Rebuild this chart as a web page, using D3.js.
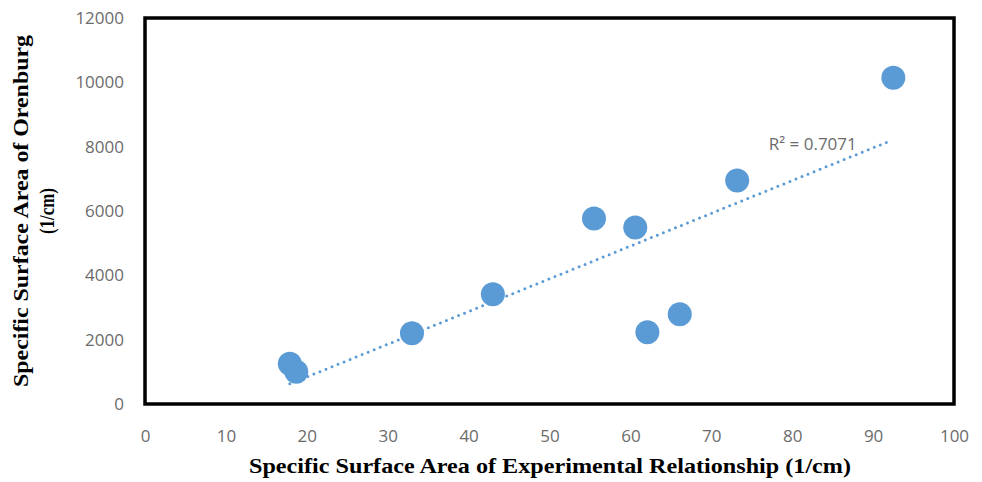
<!DOCTYPE html>
<html>
<head>
<meta charset="utf-8">
<script src="https://cdn.jsdelivr.net/npm/d3@7"></script>
<style>
  body { margin: 0; background: #fff; }
  .tick text { font-family: "Open Sans", "Noto Sans", sans-serif; fill: #6b6b6b; }
  .title { font-family: "Liberation Serif", serif; font-weight: bold; }
</style>
</head>
<body>
<div id="chart-area"></div>
<script>
// values
var xValues = [17.9, 18.7, 33.0, 43.0, 55.5, 60.6, 62.1, 66.1, 73.2, 92.5];
var yValues = [1250, 1000, 2200, 3410, 5770, 5490, 2230, 2790, 6950, 10140];
var xTicks = [0, 10, 20, 30, 40, 50, 60, 70, 80, 90, 100];
var yTicks = [0, 2000, 4000, 6000, 8000, 10000, 12000];
var r2Label = "R\u00b2 = 0.7071";

var width = 982, height = 482;
var margin = { top: 18, right: 28, bottom: 78, left: 145 };
var innerW = width - margin.left - margin.right;
var innerH = height - margin.top - margin.bottom;

var svg = d3.select("#chart-area")
    .append("svg")
    .attr("width", width)
    .attr("height", height);

var g = svg.append("g")
    .attr("transform", "translate(" + margin.left + "," + margin.top + ")");

var x = d3.scaleLinear().domain([0, 100]).range([0, innerW]);
var y = d3.scaleLinear().domain([0, 12000]).range([innerH, 0]);

// axes (labels only, frame drawn separately)
var xAxis = g.append("g")
    .attr("transform", "translate(0," + innerH + ")")
    .call(d3.axisBottom(x).tickValues(xTicks).tickSize(0).tickPadding(26).tickFormat(d3.format("d")));
var yAxis = g.append("g")
    .call(d3.axisLeft(y).tickValues(yTicks).tickSize(0).tickPadding(21).tickFormat(d3.format("d")));
[xAxis, yAxis].forEach(a => {
    a.select(".domain").remove();
    a.selectAll("text").style("font-size", "17px");
});

// plot frame
g.append("rect")
    .attr("x", 0).attr("y", 0)
    .attr("width", innerW).attr("height", innerH)
    .attr("fill", "none")
    .attr("stroke", "#000")
    .attr("stroke-width", 3.5);

// linear trendline
var data = xValues.map((v, i) => ({ x: v, y: yValues[i] }));
var mx = d3.mean(data, d => d.x), my = d3.mean(data, d => d.y);
var slope = d3.sum(data, d => (d.x - mx) * (d.y - my)) / d3.sum(data, d => (d.x - mx) * (d.x - mx));
var icpt = my - slope * mx;
var xr = d3.extent(xValues);

g.append("line")
    .attr("x1", x(xr[0])).attr("y1", y(icpt + slope * xr[0]))
    .attr("x2", x(xr[1] - 0.8)).attr("y2", y(icpt + slope * (xr[1] - 0.8)))
    .attr("stroke", "#5b9bd5")
    .attr("stroke-width", 3)
    .attr("stroke-linecap", "round")
    .attr("stroke-dasharray", "0,6.5");

g.append("text")
    .attr("x", x(77.1))
    .attr("y", y(7900))
    .attr("fill", "#6b6b6b")
    .style("font-family", "'Open Sans', sans-serif")
    .style("font-size", "17px")
    .text(r2Label);

g.selectAll("circle")
    .data(data)
    .enter().append("circle")
    .attr("cx", d => x(d.x))
    .attr("cy", d => y(d.y))
    .attr("r", 12)
    .attr("fill", "#5b9bd5");

// axis titles
svg.append("text")
    .attr("class", "title")
    .attr("x", 550)
    .attr("y", 473)
    .attr("text-anchor", "middle")
    .style("font-size", "22px")
    .attr("textLength", 602)
    .attr("lengthAdjust", "spacingAndGlyphs")
    .text("Specific Surface Area of Experimental  Relationship (1/cm)");

var yt = svg.append("text")
    .attr("class", "title")
    .attr("transform", "translate(0,211) rotate(-90)")
    .attr("text-anchor", "middle")
    .style("font-size", "21px");
yt.append("tspan").attr("x", 0).attr("y", 28)
    .attr("textLength", 352).attr("lengthAdjust", "spacingAndGlyphs")
    .text("Specific Surface Area of Orenburg");
yt.append("tspan").attr("x", 0).attr("y", 54)
    .attr("textLength", 46).attr("lengthAdjust", "spacingAndGlyphs")
    .text("(1/cm)");
</script>
</body>
</html>
